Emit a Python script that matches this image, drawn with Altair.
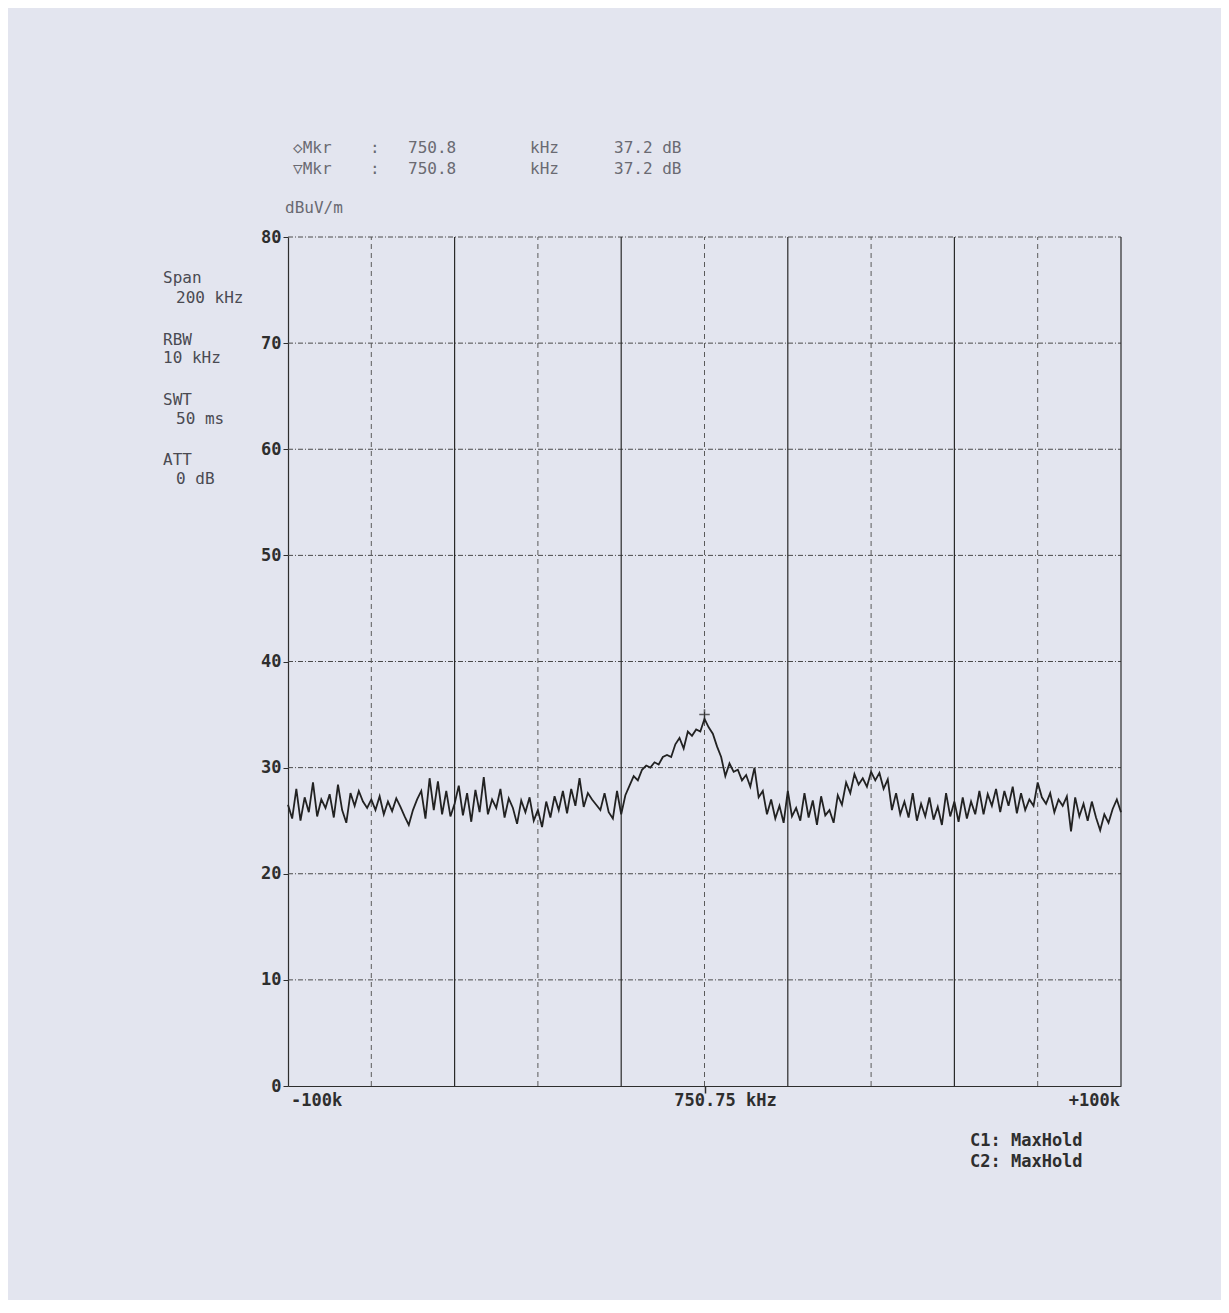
import altair as alt
import pandas as pd

# ---- data ----
freq_offset_khz = list(range(-100, 101))  # offset from centre 750.75 kHz
level_dbuv = [
    26.5, 25.2, 28.0, 25.0, 27.2, 25.8, 28.6, 25.4, 27.0, 26.2,
    27.5, 25.3, 28.4, 26.0, 24.8, 27.6, 26.4, 27.8, 26.8, 26.2,
    27.0, 26.0, 27.3, 25.6, 26.8, 25.9, 27.1, 26.3, 25.4, 24.6,
    26.0, 27.0, 27.8, 25.2, 29.0, 26.0, 28.7, 25.6, 27.8, 25.4,
    26.6, 28.3, 25.5, 27.6, 24.9, 27.9, 25.8, 29.1, 25.6, 27.0,
    26.2, 28.0, 25.3, 27.1, 26.2, 24.7, 26.9, 25.8, 27.2, 25.0,
    26.0, 24.4, 26.8, 25.3, 27.3, 26.0, 27.8, 25.7, 28.0, 26.4,
    29.0, 26.3, 27.6, 27.0, 26.5, 26.0, 27.6, 25.8, 25.2, 27.8,
    25.6, 27.4, 28.3, 29.2, 28.8, 29.8, 30.2, 30.0, 30.5, 30.3,
    31.0, 31.2, 31.0, 32.2, 32.8, 31.8, 33.4, 33.0, 33.6, 33.4,
    34.6,
    33.8, 33.2, 32.0, 31.0, 29.2, 30.4, 29.6, 29.8, 28.8, 29.3,
    28.2, 30.0, 27.2, 27.8, 25.6, 27.0, 25.2, 26.4, 24.8, 27.8,
    25.4, 26.2, 25.0, 27.6, 25.3, 26.9, 24.6, 27.3, 25.5, 26.0,
    24.8, 27.4, 26.5, 28.6, 27.6, 29.4, 28.4, 29.0, 28.2, 29.6,
    28.8, 29.5, 28.0, 28.9, 26.0, 27.6, 25.6, 26.8, 25.3, 27.6,
    25.0, 26.6, 25.4, 27.2, 25.1, 26.3, 24.6, 27.6, 25.4, 26.8,
    24.9, 27.2, 25.2, 26.8, 25.6, 27.8, 25.6, 27.5, 26.4, 28.0,
    25.8, 27.8, 26.4, 28.2, 25.7, 27.6, 26.0, 27.0, 26.4, 28.6,
    27.2, 26.6, 27.6, 25.8, 27.0, 26.4, 27.3, 24.0, 27.2, 25.4,
    26.6, 25.0, 26.8, 25.3, 24.1, 25.6, 24.8, 26.1, 27.0, 25.8,
]
marker_x = [0]
marker_y = [35.0]

y_ticks = [0, 10, 20, 30, 40, 50, 60, 70, 80]
grid_y = [10, 20, 30, 40, 50, 60, 70, 80]
grid_x_solid = [-60, -20, 20, 60, 100]
grid_x_dashed = [-80, -40, 0, 40, 80]
x_label_values = [-100, 0, 100]
x_labels = ["-100k", "750.75 kHz", "+100k"]

marker_row1 = ["\u25c7Mkr", ":", "750.8", "kHz", "37.2 dB"]
marker_row2 = ["\u25bdMkr", ":", "750.8", "kHz", "37.2 dB"]
unit_label = "dBuV/m"
settings = ["Span", "200 kHz", "RBW", "10 kHz", "SWT", "50 ms", "ATT", "0 dB"]
trace_modes = ["C1: MaxHold", "C2: MaxHold"]

FONT = "DejaVu Sans Mono"
INK = "#2e2e2e"
FAINT = "#6a6a72"
BG = "#e3e5ef"

xs = alt.Scale(domain=[-100, 100], nice=False, zero=False)
ys = alt.Scale(domain=[0, 80], nice=False)

trace_df = pd.DataFrame({"f": freq_offset_khz, "v": level_dbuv})

# grid
gy = alt.Chart(pd.DataFrame({"v": grid_y})).mark_rule(
    color="#4a4a4a", strokeWidth=1, strokeDash=[5, 2, 1, 2]
).encode(y=alt.Y("v:Q", scale=ys), x=alt.datum(-100, scale=xs), x2=alt.datum(100))

gxs = alt.Chart(pd.DataFrame({"f": grid_x_solid})).mark_rule(
    color="#2a2a2a", strokeWidth=1.2
).encode(x=alt.X("f:Q", scale=xs), y=alt.datum(0, scale=ys), y2=alt.datum(80))

gxd = alt.Chart(pd.DataFrame({"f": grid_x_dashed})).mark_rule(
    color="#5a5a5a", strokeWidth=1, strokeDash=[5, 4]
).encode(x=alt.X("f:Q", scale=xs), y=alt.datum(0, scale=ys), y2=alt.datum(80))

# trace with axes
trace = alt.Chart(trace_df).mark_line(color="#222222", strokeWidth=1.8).encode(
    x=alt.X("f:Q", scale=xs, axis=alt.Axis(
        values=[0], labels=False, title=None, grid=False, tickSize=7,
        tickColor=INK, domainColor=INK, domainWidth=1.2, tickWidth=1.5)),
    y=alt.Y("v:Q", scale=ys, axis=alt.Axis(
        values=y_ticks, title=None, grid=False, tickSize=5, tickColor=INK,
        domainColor=INK, domainWidth=1.2, labelFont=FONT, labelFontSize=17,
        labelColor=INK, labelPadding=2, labelFontWeight="bold")),
)

marker = alt.Chart(pd.DataFrame({"f": marker_x, "v": marker_y})).mark_point(
    shape="M-1,0H1M0,-1V1", size=110, filled=False, color="#222222", strokeWidth=1.6
).encode(x=alt.X("f:Q", scale=xs), y=alt.Y("v:Q", scale=ys))


def txt(s, x, y, align="left", color=INK, size=17, weight="bold"):
    return alt.Chart(pd.DataFrame({"t": [s]})).mark_text(
        align=align, baseline="middle", font=FONT, fontSize=size,
        color=color, fontWeight=weight
    ).encode(text="t:N", x=alt.value(x), y=alt.value(y))


def xlabel(s, v, align, dx):
    return alt.Chart(pd.DataFrame({"t": [s]})).mark_text(
        align=align, baseline="middle", font=FONT, fontSize=17, color=INK,
        fontWeight="bold", dx=dx
    ).encode(text="t:N", x=alt.datum(v, scale=xs), y=alt.value(864))


texts = []
col_x = [5, 82, 120, 242, 326]
for s, cx in zip(marker_row1, col_x):
    texts.append(txt(s, cx, -89, color=FAINT, size=16, weight="normal"))
for s, cx in zip(marker_row2, col_x):
    texts.append(txt(s, cx, -68, color=FAINT, size=16, weight="normal"))
texts.append(txt(unit_label, -3, -29, color=FAINT, size=16, weight="normal"))

set_pos = [(-125, 41), (-112, 61), (-125, 103), (-125, 121),
           (-125, 163), (-112, 182), (-125, 223), (-112, 242)]
for s, (px, py) in zip(settings, set_pos):
    texts.append(txt(s, px, py, color="#4a4a52", size=16, weight="normal"))

texts.append(txt(trace_modes[0], 682, 904))
texts.append(txt(trace_modes[1], 682, 925))

xl = [
    xlabel(x_labels[0], x_label_values[0], "left", 3),
    xlabel(x_labels[1], x_label_values[1], "center", 21),
    xlabel(x_labels[2], x_label_values[2], "right", -1),
]

chart = alt.layer(gy, gxd, gxs, trace, marker, *xl, *texts).properties(
    width=833, height=849, background=BG,
    padding={"left": 280, "top": 229, "right": 100, "bottom": 214},
    autosize=alt.AutoSizeParams(type="none"),
).configure_view(stroke=None)

chart.save("out.html", embed_options={"renderer": "svg", "actions": False})
